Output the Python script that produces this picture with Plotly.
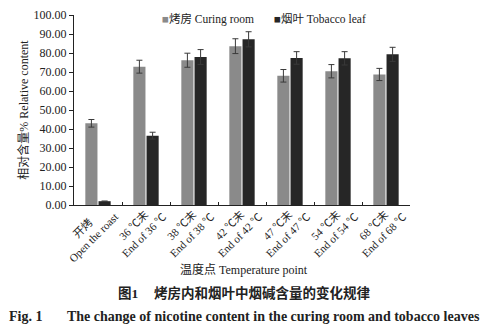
import plotly.graph_objects as go

categories = ["开烤\nOpen the roast", "36 ℃末\nEnd of 36 ℃", "38 ℃末\nEnd of 38 ℃",
              "42 ℃末\nEnd of 42 ℃", "47 ℃末\nEnd of 47 ℃", "54 ℃末\nEnd of 54 ℃",
              "68 ℃末\nEnd of 68 ℃"]
room = [43.0, 72.8, 76.2, 83.6, 68.0, 70.4, 68.7]
room_err = [2.0, 3.4, 3.7, 3.9, 3.3, 3.5, 3.2]
leaf = [2.0, 36.5, 77.9, 87.2, 77.4, 77.2, 79.3]
leaf_err = [0.0, 1.8, 3.9, 4.0, 3.3, 3.5, 3.7]
yticks = [0, 10, 20, 30, 40, 50, 60, 70, 80, 90, 100]
room_name = "烤房 Curing room"
leaf_name = "烟叶 Tobacco leaf"
room_color = "#8a8a8a"
leaf_color = "#262626"

SERIF = "Liberation Serif, Times New Roman, Noto Sans CJK SC, serif"


def tick_label(cat):
    # two lines, visually centred against each other (tick labels are end-aligned when rotated)
    first, second = cat.split("\n")
    pad = "&nbsp;" * (8 if first == "开烤" else 4)
    return first + pad + "<br>" + second


fig = go.Figure()
fig.add_trace(go.Bar(x=categories, y=room, name=room_name, showlegend=False,
                     marker=dict(color=room_color, line=dict(width=0)),
                     error_y=dict(type="data", array=room_err, visible=True,
                                  color="#3a3a3a", thickness=1, width=3)))
fig.add_trace(go.Bar(x=categories, y=leaf, name=leaf_name, showlegend=False,
                     marker=dict(color=leaf_color, line=dict(width=0)),
                     error_y=dict(type="data", array=leaf_err, visible=True,
                                  color="#3a3a3a", thickness=1, width=3)))

fig.update_layout(
    width=481, height=330,
    margin=dict(l=74, r=71, t=15, b=125),
    plot_bgcolor="white", paper_bgcolor="white",
    font=dict(family=SERIF, size=11, color="#222"),
    barmode="group", bargap=0.45, bargroupgap=0.08,
)
fig.update_xaxes(type="category", showline=True, linecolor="#222", linewidth=1,
                 ticks="inside", ticklen=3, tickson="boundaries", tickcolor="#222",
                 tickvals=categories, ticktext=[tick_label(c) for c in categories],
                 tickangle=-45, tickfont=dict(size=11), showgrid=False, automargin=False,
                 ticklabelshift=7, ticklabelstandoff=-10)
fig.update_yaxes(range=[0, 100], tickvals=yticks, tickformat=".2f", automargin=False,
                 showline=True, linecolor="#222", linewidth=1, ticks="outside",
                 ticklen=4, tickcolor="#222", showgrid=False, zeroline=False,
                 tickfont=dict(size=12),
                 title=dict(text="相对含量% Relative content", font=dict(size=12), standoff=2))

def px(x):
    return (x - 74) / 336

def py(y):
    return (205 - y) / 190

# x-axis title
fig.add_annotation(text="温度点 Temperature point", xref="paper", yref="paper",
                   x=px(244), y=py(269), xanchor="center", yanchor="middle",
                   showarrow=False, font=dict(size=12))

# legend drawn as text
fig.add_annotation(text=f"<span style='color:{room_color}'>■</span>{room_name}",
                   xref="paper", yref="paper", x=px(160), y=py(19),
                   xanchor="left", yanchor="middle", showarrow=False, font=dict(size=11.5))
fig.add_annotation(text=f"<span style='color:{leaf_color}'>■</span>{leaf_name}",
                   xref="paper", yref="paper", x=px(272), y=py(19),
                   xanchor="left", yanchor="middle", showarrow=False, font=dict(size=11.5))

# captions
fig.add_annotation(text="<b>图1</b>", xref="paper", yref="paper",
                   x=px(116), y=py(293), showarrow=False,
                   font=dict(size=13.5, family=SERIF), xanchor="left", yanchor="middle")
fig.add_annotation(text="<b>烤房内和烟叶中烟碱含量的变化规律</b>", xref="paper", yref="paper",
                   x=px(152), y=py(293), showarrow=False,
                   font=dict(size=13.5, family=SERIF), xanchor="left", yanchor="middle")
fig.add_annotation(text="<b>Fig. 1</b>", xref="paper", yref="paper",
                   x=px(7), y=py(316), showarrow=False,
                   font=dict(size=14, family=SERIF), xanchor="left", yanchor="middle")
fig.add_annotation(text="<b>The change of nicotine content in the curing room and tobacco leaves</b>",
                   xref="paper", yref="paper", x=px(65), y=py(316), showarrow=False,
                   font=dict(size=14, family=SERIF), xanchor="left", yanchor="middle")

fig.write_html("out.html")
